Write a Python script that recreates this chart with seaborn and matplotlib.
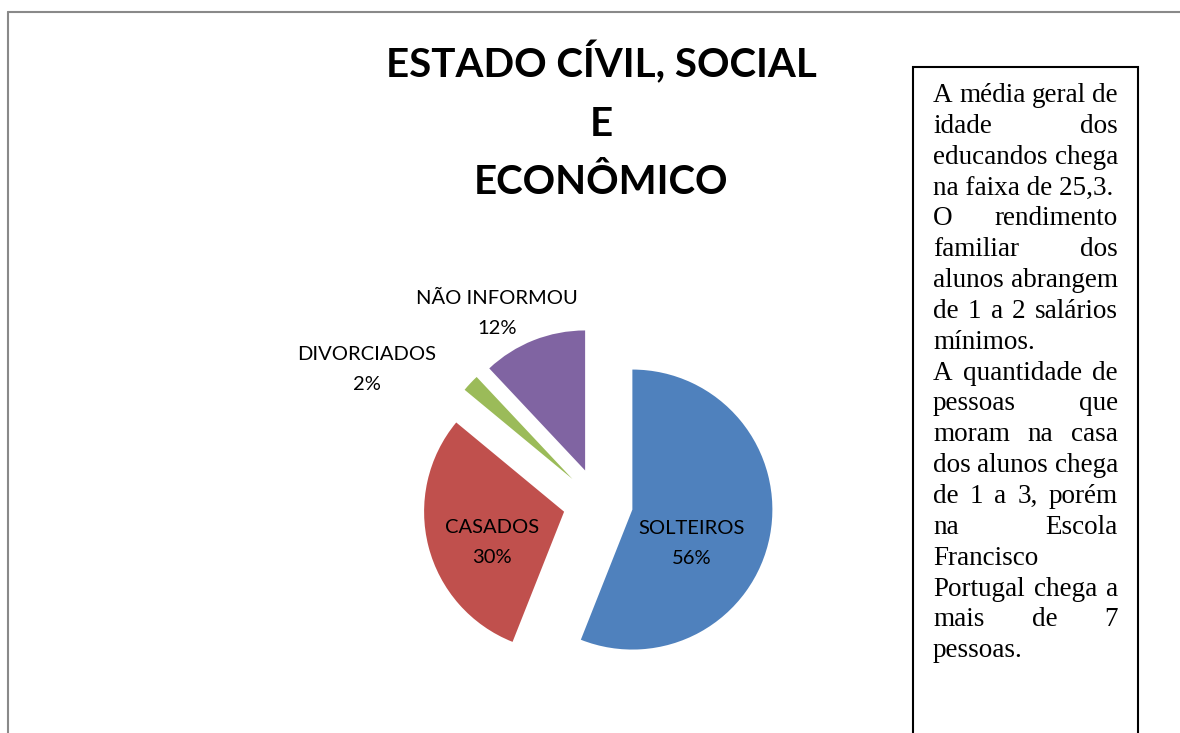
import matplotlib.pyplot as plt
import matplotlib.patches as mpatches
from matplotlib.lines import Line2D
import seaborn as sns

sns.set_style('white')
plt.rcParams['font.family'] = ['Lato', 'DejaVu Sans']

# dados
categorias = ["SOLTEIROS", "CASADOS", "DIVORCIADOS", "NÃO INFORMOU"]
percentuais = [56, 30, 2, 12]
cores = ["#4F81BD", "#C0504D", "#9BBB59", "#8064A2"]

titulo = "ESTADO CÍVIL, SOCIAL\nE\nECONÔMICO"

linhas_texto = [
    ("A média geral de", True),
    ("idade dos", True),
    ("educandos chega", True),
    ("na faixa de 25,3.", False),
    ("O rendimento", True),
    ("familiar dos", True),
    ("alunos abrangem", True),
    ("de 1 a 2 salários", True),
    ("mínimos.", False),
    ("A quantidade de", True),
    ("pessoas que", True),
    ("moram na casa", True),
    ("dos alunos chega", True),
    ("de 1 a 3, porém", True),
    ("na Escola", True),
    ("Francisco", False),
    ("Portugal chega a", True),
    ("mais de 7", True),
    ("pessoas.", False),
]

W, H = 1180, 733
cx, cy, R = 598, 503, 140   # centro / raio da pizza em pixels

fig = plt.figure(figsize=(W / 100, H / 100), dpi=100)
ax = fig.add_axes([0, 0, 1, 1])

wedges, _ = ax.pie(percentuais, colors=cores, startangle=90, counterclock=False,
                   explode=[0.25] * len(percentuais),
                   wedgeprops={'linewidth': 0})
ax.set_xlim(-cx / R, (W - cx) / R)
ax.set_ylim(-(H - cy) / R, cy / R)
ax.axis('off')

# rotulos (posicao em unidades do raio)
pos_rotulos = [(0.671, -0.286), (-0.757, -0.279), (-1.653, 0.957), (-0.721, 1.357)]
for cat, p, (x, y) in zip(categorias, percentuais, pos_rotulos):
    ax.text(x, y, f"{cat}\n{p}%", ha='center', va='center', fontsize=14.5,
            linespacing=1.93, color='black')

# titulo
fig.text(601 / W, 1 - 121 / H, titulo, ha='center', va='center', fontsize=29,
         fontweight='bold', linespacing=1.71, color='black')

# moldura cinza
fig.add_artist(Line2D([8 / W, 8 / W], [0, 1 - 11.5 / H], color='#898989', lw=1.5))
fig.add_artist(Line2D([8 / W, 1], [1 - 11.5 / H, 1 - 11.5 / H], color='#898989', lw=1.5))

# caixa de texto
caixa = mpatches.Rectangle((913 / W, -0.02), (1138 - 913) / W, 0.02 + 1 - 67 / H,
                           transform=fig.transFigure, fill=False, edgecolor='black', lw=1.5)
fig.add_artist(caixa)

# texto justificado
renderer = fig.canvas.get_renderer()
esq, dir_ = 933, 1118
fonte = dict(family=['Liberation Serif', 'DejaVu Serif'], fontsize=19.5, color='black')
for i, (linha, justificar) in enumerate(linhas_texto):
    yb = 1 - (102 + i * 30.85) / H
    palavras = linha.split(" ")
    if not justificar or len(palavras) == 1:
        fig.text(esq / W, yb, linha, ha='left', va='baseline', **fonte)
        continue
    objs = [fig.text(0, yb, p, ha='left', va='baseline', **fonte) for p in palavras]
    larguras = [o.get_window_extent(renderer).width for o in objs]
    gap = ((dir_ - esq) - sum(larguras)) / (len(palavras) - 1)
    x = esq
    for o, w in zip(objs, larguras):
        o.set_x(x / W)
        x += w + gap

fig.savefig("out.png", dpi=100, facecolor='white')
